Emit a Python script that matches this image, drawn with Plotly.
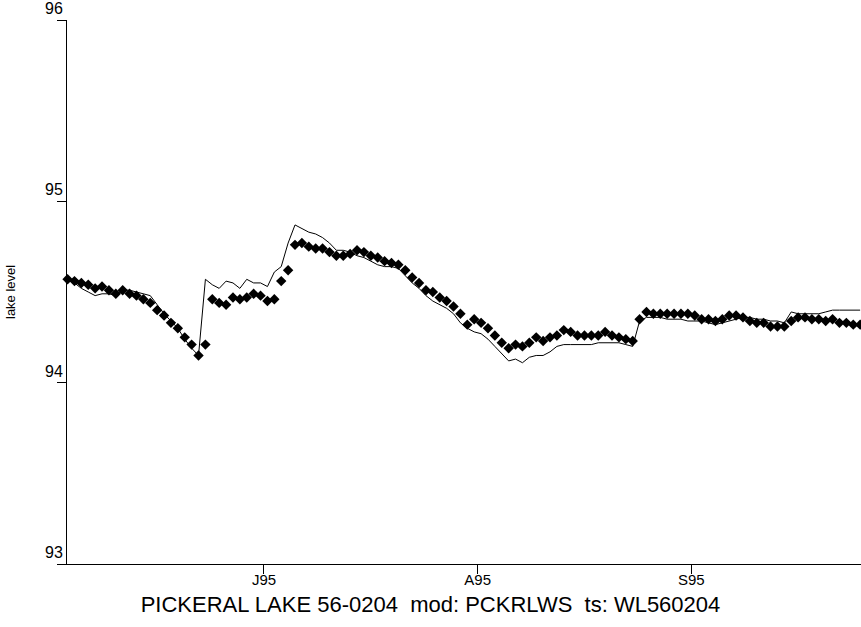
import pandas as pd
import plotly.graph_objects as go

# daily lake levels, 2 Jun 1995 - 25 Sep 1995
start_day = '1995-06-02 12:00'

observed = [94.57, 94.56, 94.55, 94.54, 94.52, 94.53, 94.51, 94.49, 94.51, 94.49,
            94.48, 94.46, 94.44, 94.40, 94.37, 94.33, 94.30, 94.25, 94.21, 94.15,
            94.21, 94.46, 94.44, 94.43, 94.47, 94.46, 94.47, 94.49, 94.48, 94.45,
            94.46, 94.56, 94.62, 94.76, 94.77, 94.75, 94.74, 94.74, 94.72, 94.70,
            94.70, 94.71, 94.73, 94.72, 94.70, 94.69, 94.67, 94.66, 94.65, 94.62,
            94.58, 94.55, 94.51, 94.50, 94.47, 94.45, 94.42, 94.38, 94.32, 94.35,
            94.33, 94.30, 94.26, 94.22, 94.19, 94.21, 94.20, 94.22, 94.25, 94.23,
            94.25, 94.26, 94.29, 94.28, 94.26, 94.26, 94.26, 94.26, 94.28, 94.26,
            94.25, 94.24, 94.23, 94.35, 94.39, 94.38, 94.38, 94.38, 94.38, 94.38,
            94.38, 94.37, 94.35, 94.35, 94.34, 94.35, 94.37, 94.37, 94.36, 94.34,
            94.33, 94.33, 94.31, 94.31, 94.31, 94.34, 94.36, 94.36, 94.35, 94.35,
            94.34, 94.35, 94.33, 94.33, 94.32, 94.32]

simulated = [94.58, 94.55, 94.52, 94.50, 94.48, 94.49, 94.49, 94.48, 94.51, 94.51,
             94.50, 94.49, 94.48, 94.43, 94.38, 94.34, 94.30, 94.24, 94.19, 94.15,
             94.57, 94.54, 94.52, 94.56, 94.55, 94.52, 94.57, 94.55, 94.55, 94.53,
             94.61, 94.64, 94.77, 94.87, 94.85, 94.83, 94.82, 94.80, 94.77, 94.73,
             94.73, 94.72, 94.70, 94.69, 94.67, 94.65, 94.64, 94.64, 94.63, 94.59,
             94.55, 94.52, 94.48, 94.45, 94.43, 94.41, 94.38, 94.33, 94.30, 94.28,
             94.27, 94.24, 94.20, 94.16, 94.12, 94.13, 94.11, 94.14, 94.15, 94.15,
             94.17, 94.20, 94.21, 94.21, 94.21, 94.21, 94.21, 94.22, 94.22, 94.22,
             94.22, 94.21, 94.20, 94.34, 94.36, 94.36, 94.36, 94.35, 94.35, 94.35,
             94.34, 94.34, 94.34, 94.33, 94.32, 94.33, 94.34, 94.35, 94.36, 94.36,
             94.35, 94.35, 94.34, 94.34, 94.33, 94.39, 94.38, 94.38, 94.38, 94.38,
             94.39, 94.40, 94.40, 94.40, 94.40, 94.40]

tick_dates = ['1995-07-01', '1995-08-01', '1995-09-01']
tick_text = ['J95', 'A95', 'S95']

days = pd.date_range(start_day, periods=len(observed), freq='D')

fig = go.Figure()
fig.add_trace(go.Scatter(x=days, y=simulated, mode='lines',
                         line=dict(color='black', width=1), name='simulated'))
fig.add_trace(go.Scatter(x=days, y=observed, mode='markers',
                         marker=dict(symbol='diamond', size=8, color='black'),
                         cliponaxis=False, name='observed'))

font = 'Liberation Sans, Arial, sans-serif'
fig.update_layout(
    width=861, height=627,
    margin=dict(l=67, r=0, t=15, b=63),
    plot_bgcolor='white', paper_bgcolor='white',
    showlegend=False,
    font=dict(family=font, color='black', size=14),
    title=dict(text='PICKERAL LAKE 56-0204  mod: PCKRLWS  ts: WL560204',
               x=0.5, xref='container', xanchor='center',
               y=0.037, yref='container', yanchor='middle',
               font=dict(size=22, family=font, color='black')),
    annotations=[dict(text='lake level', textangle=-90,
                      xref='paper', yref='paper', x=0, y=0.5,
                      xanchor='center', yanchor='middle', xshift=-57,
                      showarrow=False, font=dict(size=13))],
)
fig.update_xaxes(range=['1995-06-02 10:00', '1995-09-25 15:00'],
                 tickvals=tick_dates, ticktext=tick_text,
                 showgrid=False, zeroline=False,
                 showline=True, linecolor='black', linewidth=1,
                 ticks='outside', ticklen=9, tickcolor='black',
                 ticklabelstandoff=-7,
                 tickfont=dict(size=15))
fig.update_yaxes(range=[93, 96], tickvals=[93, 94, 95, 96],
                 showgrid=False, zeroline=False,
                 showline=True, linecolor='black', linewidth=1,
                 ticks='outside', ticklen=9, tickcolor='black',
                 ticklabelposition='outside top', ticklabeloverflow='allow',
                 tickfont=dict(size=16))

# drop the default 8px body margin so the figure fills the window
fig.write_html("out.html", config={'displayModeBar': False},
               post_script="document.body.style.margin = '0';")
